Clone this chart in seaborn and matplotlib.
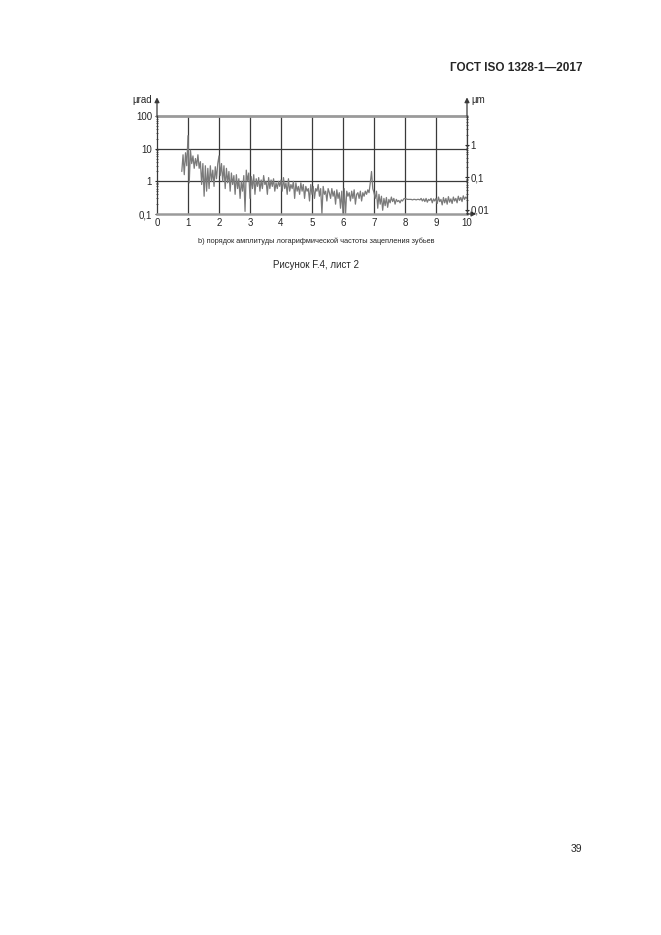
import numpy as np
import pandas as pd
import matplotlib
matplotlib.use('Agg')
import matplotlib.pyplot as plt
import seaborn as sns
from matplotlib.ticker import LogLocator, NullFormatter, FixedLocator

# order of mesh frequency (x step 0.04 starting at 0.8)
x_start = 0.8
x_step = 0.04

# amplitude, µrad
amp_08_10 = [2.0, 6.5, 1.6, 7.5, 3.0]
amp_10_20 = [25, 0.9, 9, 3.5, 6, 2.5, 5, 3, 6.5, 2.5, 4, 0.8, 3.5, 0.35, 3, 0.5, 2.5, 0.6, 3, 1.0,
             2.2, 0.7, 2.8, 1.2, 3.5]
amp_20_30 = [6, 1.5, 3.5, 1.0, 3, 0.6, 2.5, 0.9, 2, 0.5, 1.8, 0.8, 1.5, 0.4, 1.6, 0.6, 1.2, 0.3, 1.0, 0.5,
             1.5, 0.12, 2.2, 1.0, 1.8]
amp_30_40 = [0.3, 1.4, 0.6, 1.6, 0.4, 1.2, 0.7, 1.3, 0.5, 1.1, 0.6, 1.5, 0.8, 1.0, 0.4, 1.3, 0.6, 1.1, 0.7, 1.2,
             0.5, 0.9, 0.6, 1.0, 0.7]
amp_40_50 = [1.1, 0.5, 1.3, 0.6, 0.9, 0.4, 1.2, 0.5, 0.8, 0.6, 1.0, 0.3, 0.9, 0.5, 0.7, 0.4, 0.9, 0.5, 0.8, 0.3,
             0.7, 0.5, 0.6, 0.25, 0.8]
amp_50_60 = [0.4, 0.7, 0.3, 0.6, 0.5, 0.8, 0.35, 0.6, 0.1, 0.7, 0.4, 0.5, 0.25, 0.6, 0.45, 0.3, 0.6, 0.35, 0.5, 0.2,
             0.55, 0.3, 0.45, 0.15, 0.5]
amp_60_70 = [0.1, 0.6, 0.09, 0.5, 0.35, 0.45, 0.25, 0.5, 0.3, 0.55, 0.2, 0.4, 0.45, 0.3, 0.5, 0.25, 0.45, 0.35, 0.5, 0.4,
             0.55, 0.45, 0.9, 2.0, 0.6]
amp_70_80 = [0.45, 0.3, 0.5, 0.15, 0.4, 0.2, 0.35, 0.13, 0.3, 0.18, 0.32, 0.16, 0.28, 0.22, 0.33, 0.24, 0.3, 0.2, 0.28, 0.24,
             0.26, 0.22, 0.27, 0.25, 0.29]
amp_80_90 = [0.3, 0.29, 0.28, 0.28, 0.28, 0.28, 0.27, 0.28, 0.28, 0.27, 0.28, 0.28, 0.27, 0.3, 0.25, 0.29, 0.24, 0.3, 0.23, 0.28,
             0.26, 0.3, 0.22, 0.29, 0.25]
amp_90_100 = [0.3, 0.21, 0.33, 0.24, 0.28, 0.19, 0.32, 0.22, 0.3, 0.2, 0.34, 0.23, 0.29, 0.21, 0.33, 0.25, 0.3, 0.22, 0.35, 0.26,
              0.32, 0.24, 0.36, 0.28, 0.33, 0.3]

amplitude = (amp_08_10 + amp_10_20 + amp_20_30 + amp_30_40 + amp_40_50 + amp_50_60
             + amp_60_70 + amp_70_80 + amp_80_90 + amp_90_100)
order = x_start + x_step * np.arange(len(amplitude))
df = pd.DataFrame({'order': order, 'amplitude': amplitude})

x_ticks = list(range(0, 11))
left_ticks = [0.1, 1, 10, 100]
left_labels = ['0,1', '1', '10', '100']
right_ticks = [0.01, 0.1, 1]
right_labels = ['0,01', '0,1', '1']

sns.set_style('white')
plt.rcParams['font.family'] = ['Liberation Sans', 'DejaVu Sans']

fig = plt.figure(figsize=(6.61, 9.35), dpi=100)
ax = fig.add_axes([157 / 661, 1 - 214 / 935, 310 / 661, 98 / 935])

ax.set_yscale('log')
ax.set_xlim(0, 10)
ax.set_ylim(0.1, 100)

# grid
for xv in x_ticks[1:]:
    ax.axvline(xv, color='#3a3a3a', lw=0.9, zorder=1)
for yv in [1, 10]:
    ax.axhline(yv, color='#3a3a3a', lw=0.9, zorder=1)
ax.axhline(100, color='#9a9a9a', lw=2.0, zorder=1, clip_on=False)

sns.lineplot(data=df, x='order', y='amplitude', ax=ax, color='#7a7a7a', lw=0.9,
             estimator=None, sort=False, zorder=2)

ax.set_xlabel('')
ax.set_ylabel('')
ax.set_xticks(x_ticks)
ax.set_xticklabels([str(t) for t in x_ticks], fontsize=7)
ax.set_yticks(left_ticks)
ax.set_yticklabels(left_labels, fontsize=7)
ax.yaxis.set_minor_locator(LogLocator(base=10, subs=np.arange(2, 10)))
ax.yaxis.set_minor_formatter(NullFormatter())
ax.tick_params(axis='x', length=0, pad=3)
ax.tick_params(axis='y', which='major', length=3, width=0.8, direction='inout', pad=2)
ax.tick_params(axis='y', which='minor', length=2, width=0.5, direction='inout')

for side in ['top', 'right']:
    ax.spines[side].set_visible(False)
ax.spines['left'].set_color('#3a3a3a')
ax.spines['left'].set_linewidth(0.9)
ax.spines['bottom'].set_color('#9a9a9a')
ax.spines['bottom'].set_linewidth(1.8)

# right axis in µm
ax2 = ax.twinx()
ax2.set_yscale('log')
ax2.set_ylim(0.00754, 7.54)
ax2.yaxis.set_major_locator(FixedLocator(right_ticks))
ax2.set_yticklabels(right_labels, fontsize=7)
ax2.yaxis.set_minor_locator(LogLocator(base=10, subs=np.arange(2, 10)))
ax2.yaxis.set_minor_formatter(NullFormatter())
ax2.tick_params(axis='y', which='major', length=3, width=0.8, direction='inout', pad=1)
ax2.tick_params(axis='y', which='minor', length=2, width=0.5, direction='inout')
for side in ['top', 'left', 'bottom']:
    ax2.spines[side].set_visible(False)
ax2.spines['right'].set_color('#3a3a3a')
ax2.spines['right'].set_linewidth(0.9)

# axis arrows
arrow = dict(arrowstyle='-|>', color='#3a3a3a', lw=0.9, mutation_scale=7, shrinkA=0, shrinkB=0)
ax.annotate('', xy=(0, 1.19), xytext=(0, 1.0), xycoords='axes fraction',
            arrowprops=arrow, annotation_clip=False)
ax.annotate('', xy=(1, 1.19), xytext=(1, 1.0), xycoords='axes fraction',
            arrowprops=arrow, annotation_clip=False)
ax.annotate('', xy=(1.03, 0), xytext=(1.0, 0), xycoords='axes fraction',
            arrowprops=arrow, annotation_clip=False)

ax.text(-0.015, 1.16, 'µrad', transform=ax.transAxes, ha='right', va='center', fontsize=7)
ax.text(1.015, 1.16, 'µm', transform=ax.transAxes, ha='left', va='center', fontsize=7)

# captions and page text
fig.text(316 / 661, 1 - 241 / 935,
         'b) порядок амплитуды логарифмической частоты зацепления зубьев',
         ha='center', va='center', fontsize=5.3)
fig.text(316 / 661, 1 - 265 / 935, 'Рисунок F.4, лист 2', ha='center', va='center', fontsize=7)
fig.text(582 / 661, 1 - 68 / 935, 'ГОСТ ISO 1328-1—2017', ha='right', va='center',
         fontsize=8.5, fontweight='bold')
fig.text(582 / 661, 1 - 849 / 935, '39', ha='right', va='center', fontsize=7.5)

plt.savefig('out.png', dpi=100)
plt.close()
